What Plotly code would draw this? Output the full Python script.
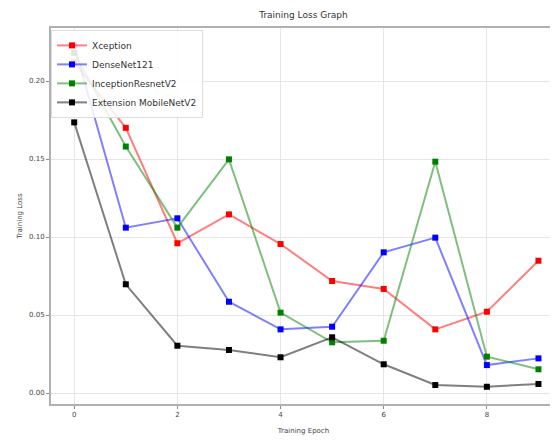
import plotly.graph_objects as go

epochs = [0, 1, 2, 3, 4, 5, 6, 7, 8, 9]
xception = [0.212, 0.170, 0.096, 0.1145, 0.0955, 0.0718, 0.0667, 0.0408, 0.0521, 0.0848]
densenet121 = [0.223, 0.106, 0.112, 0.0585, 0.0408, 0.0425, 0.0902, 0.0996, 0.0179, 0.0222]
inception_resnet_v2 = [0.218, 0.158, 0.106, 0.1498, 0.0515, 0.0325, 0.0335, 0.1483, 0.0233, 0.0152]
extension_mobilenet_v2 = [0.1735, 0.0697, 0.0303, 0.0276, 0.0229, 0.0357, 0.0184, 0.0051, 0.0040, 0.0058]

series = [
    ("Xception", xception, "255,0,0"),
    ("DenseNet121", densenet121, "0,0,255"),
    ("InceptionResnetV2", inception_resnet_v2, "0,128,0"),
    ("Extension MobileNetV2", extension_mobilenet_v2, "0,0,0"),
]

fig = go.Figure()
for name, vals, rgb in series:
    fig.add_trace(go.Scatter(
        x=epochs, y=vals, name=name, mode="lines+markers",
        line=dict(color=f"rgba({rgb},0.5)", width=2),
        marker=dict(color=f"rgb({rgb})", size=6, symbol="square"),
    ))

# page body has an 8px margin, so the figure is 550x434
fig.update_layout(
    width=550, height=434,
    margin=dict(l=43, r=0, t=20, b=38),
    paper_bgcolor="white", plot_bgcolor="white",
    font=dict(family="DejaVu Sans", size=7, color="#444"),
    title=dict(text="Training Loss Graph", x=0.5, xref="paper", y=0.985, yanchor="middle",
               font=dict(size=9, color="#333")),
    legend=dict(x=0.0, y=0.995, xanchor="left", yanchor="top",
                bgcolor="rgba(255,255,255,0.85)", bordercolor="#ddd", borderwidth=1,
                font=dict(size=9, color="#333"), tracegroupgap=0, itemwidth=30),
    showlegend=True,
)
fig.update_xaxes(
    range=[-0.45, 9.34], tickvals=[0, 2, 4, 6, 8],
    showgrid=True, gridcolor="#e6e6e6", gridwidth=1,
    showline=True, linecolor="#b0b0b0", linewidth=2, mirror=True,
    ticks="outside", ticklen=3, tickcolor="#888", zeroline=False,
    title=dict(text="Training Epoch", font=dict(size=7, color="#444"), standoff=10),
)
fig.update_yaxes(
    range=[-0.00705, 0.234], tickvals=[0, 0.05, 0.10, 0.15, 0.20], tickformat=".2f",
    showgrid=True, gridcolor="#e6e6e6", gridwidth=1,
    showline=True, linecolor="#b0b0b0", linewidth=2, mirror=True,
    ticks="outside", ticklen=3, tickcolor="#888", zeroline=False,
    title=dict(text="Training Loss", font=dict(size=7, color="#444"), standoff=6),
)

fig.write_html("out.html")
